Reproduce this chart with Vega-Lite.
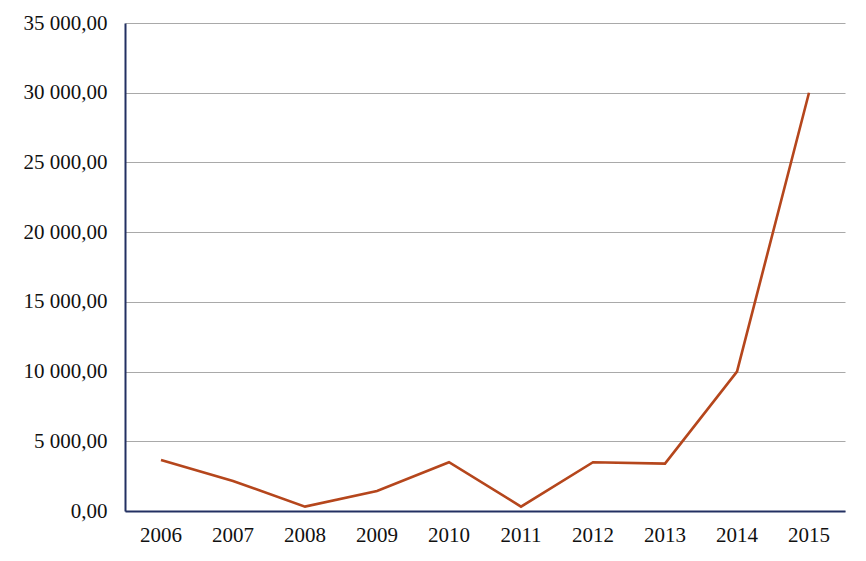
{
  "$schema": "https://vega.github.io/schema/vega-lite/v6.json",
  "autosize": "none",
  "width": 720,
  "height": 488,
  "padding": {"left": 125, "top": 23, "right": 21, "bottom": 50},
  "background": "white",
  "config": {
    "view": {"stroke": null},
    "locale": {"number": {"decimal": ",", "thousands": " ", "grouping": [3], "currency": ["", ""]}},
    "axis": {"labelFont": "Liberation Serif", "labelFontSize": 21, "labelColor": "#111111", "ticks": false}
  },
  "data": {
    "values": [
      {"year": "2006", "value": 3660},
      {"year": "2007", "value": 2150},
      {"year": "2008", "value": 315},
      {"year": "2009", "value": 1430},
      {"year": "2010", "value": 3500},
      {"year": "2011", "value": 315},
      {"year": "2012", "value": 3500},
      {"year": "2013", "value": 3400},
      {"year": "2014", "value": 10000},
      {"year": "2015", "value": 30000}
    ]
  },
  "mark": {"type": "line", "color": "#b5461c", "strokeWidth": 2.6},
  "encoding": {
    "x": {
      "field": "year", "type": "ordinal", "title": null,
      "scale": {"type": "band", "paddingInner": 0, "paddingOuter": 0},
      "axis": {"labelAngle": 0, "labelPadding": 13, "domainColor": "#233062", "domainWidth": 2, "grid": false}
    },
    "y": {
      "field": "value", "type": "quantitative", "title": null,
      "scale": {"domain": [0, 35000], "nice": false},
      "axis": {
        "values": [0, 5000, 10000, 15000, 20000, 25000, 30000, 35000],
        "format": ",.2f",
        "labelPadding": 18,
        "domainColor": "#233062", "domainWidth": 2,
        "grid": true, "gridColor": "#a9a9a9", "gridWidth": 1.2
      }
    }
  }
}
